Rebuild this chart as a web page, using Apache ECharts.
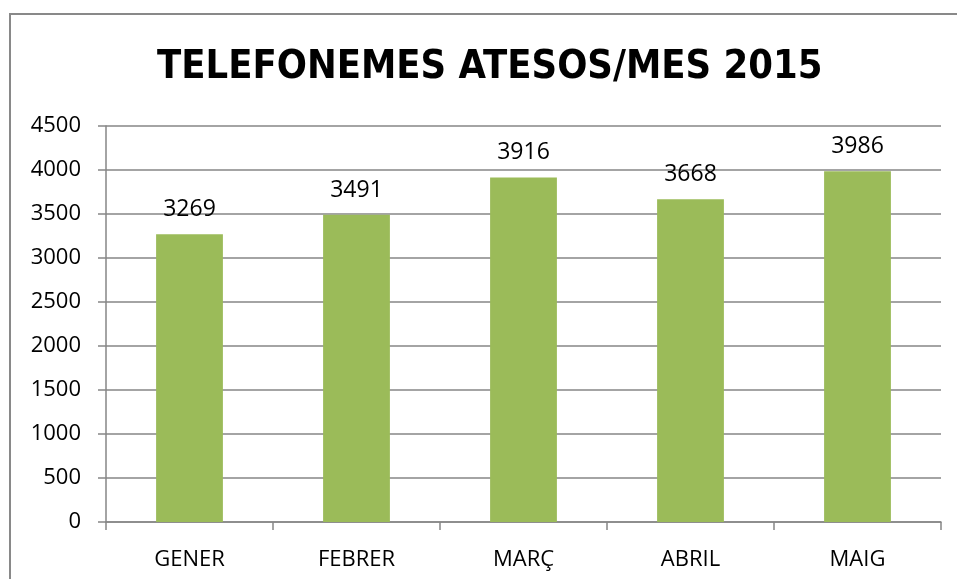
<!DOCTYPE html>
<html>
<head>
<meta charset="utf-8">
<script src="https://cdn.jsdelivr.net/npm/echarts@6/dist/echarts.min.js"></script>
<style>
html,body{margin:0;padding:0;background:#fff;}
#chart{width:957px;height:579px;}
</style>
</head>
<body>
<div id="chart"></div>
<script>
const titleText = 'TELEFONEMES ATESOS/MES 2015';
const categories = ['GENER', 'FEBRER', 'MARÇ', 'ABRIL', 'MAIG'];
const values = [3269, 3491, 3916, 3668, 3986];
const yTicks = [0, 500, 1000, 1500, 2000, 2500, 3000, 3500, 4000, 4500];

const chart = echarts.init(document.getElementById('chart'), null, {renderer: 'canvas'});
const font = "'Open Sans', 'Liberation Sans', sans-serif";
chart.setOption({
  animation: false,
  backgroundColor: '#ffffff',
  graphic: [{
    type: 'rect',
    shape: {x: 10, y: 14, width: 980, height: 600},
    style: {fill: 'none', stroke: '#898989', lineWidth: 2},
    silent: true
  }],
  title: {
    text: titleText,
    left: 157,
    top: 48,
    padding: 0,
    textStyle: {
      fontFamily: "'DejaVu Sans Condensed', 'Liberation Sans', sans-serif",
      fontWeight: 'bold',
      fontSize: 39.5,
      color: '#000'
    }
  },
  grid: {left: 106, right: 16, top: 126, bottom: 57, containLabel: false},
  xAxis: {
    type: 'category',
    data: categories,
    axisLine: {lineStyle: {color: '#868686', width: 1.5}},
    axisTick: {show: true, length: 8, alignWithLabel: false, lineStyle: {color: '#868686', width: 1.5}},
    axisLabel: {fontFamily: font, fontSize: 22, color: '#000', margin: 27}
  },
  yAxis: {
    type: 'value',
    min: yTicks[0],
    max: yTicks[yTicks.length - 1],
    interval: yTicks[1] - yTicks[0],
    axisLine: {show: true, lineStyle: {color: '#868686', width: 1.5}},
    axisTick: {show: true, length: 8, lineStyle: {color: '#868686', width: 1.5}},
    axisLabel: {fontFamily: font, fontSize: 22, color: '#000', margin: 25, formatter: v => String(v)},
    splitLine: {show: true, lineStyle: {color: '#868686', width: 1.5}}
  },
  series: [{
    type: 'bar',
    data: values,
    barWidth: '40%',
    itemStyle: {color: '#9BBB59'},
    label: {
      show: true,
      position: 'top',
      distance: 13,
      fontFamily: font,
      fontSize: 23,
      color: '#000'
    }
  }]
});
</script>
</body>
</html>
